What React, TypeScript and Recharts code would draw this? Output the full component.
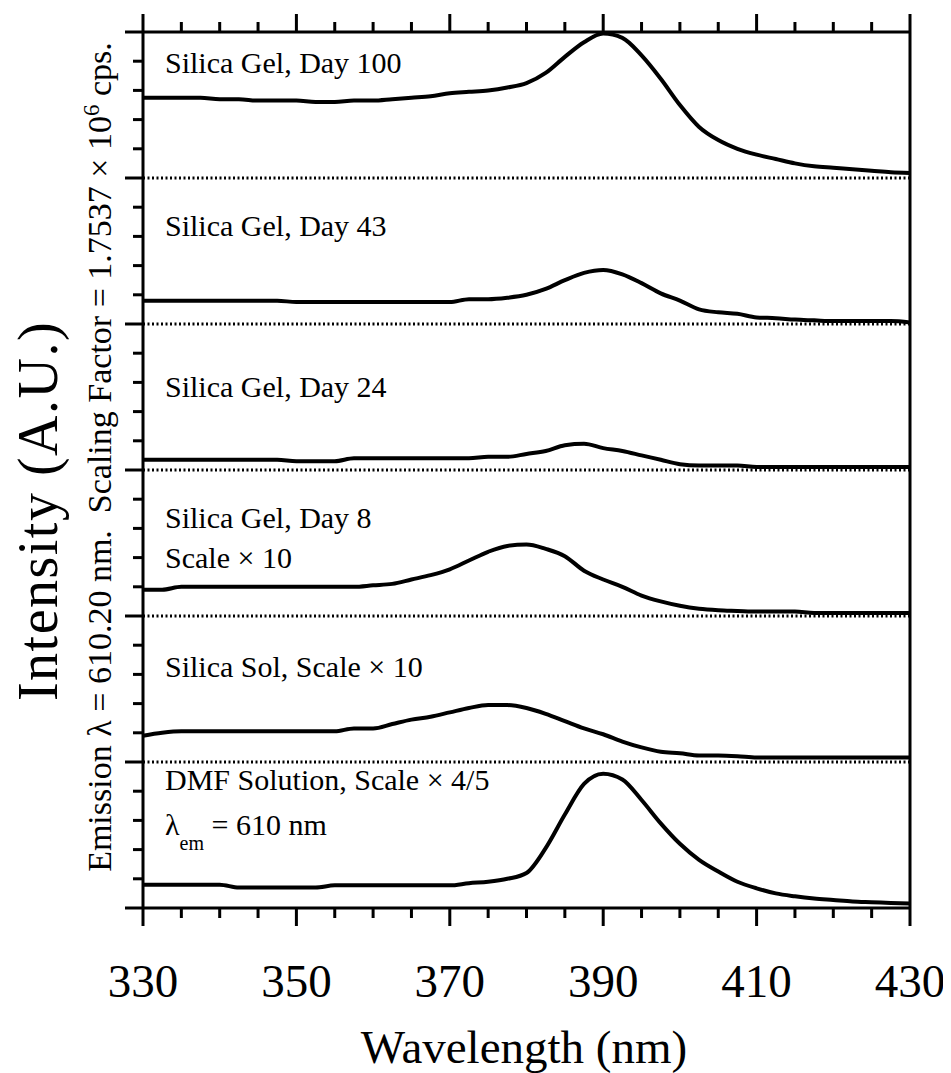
import React from 'react';
import { LineChart, Line, XAxis, YAxis, ReferenceLine } from 'recharts';

const FONT = "'Liberation Serif', 'Times New Roman', Times, serif";

// wavelength grid (nm)
const WAVELENGTHS = [
  330, 332.5, 335, 337.5, 340, 342.5, 345, 347.5, 350, 352.5, 355, 357.5, 360, 362.5,
  365, 367.5, 370, 372.5, 375, 377.5, 380, 382.5, 385, 387.5, 390, 392.5, 395, 397.5,
  400, 402.5, 405, 407.5, 410, 412.5, 415, 417.5, 420, 422.5, 425, 427.5, 430,
];

// intensities, in units of one panel height (0 = panel baseline, 1 = panel top)
const DAY_100 = [
  0.55, 0.55, 0.55, 0.55, 0.54, 0.54, 0.53, 0.53, 0.53, 0.52, 0.52, 0.53, 0.53, 0.54,
  0.55, 0.56, 0.58, 0.59, 0.6, 0.62, 0.65, 0.72, 0.83, 0.93, 0.99, 0.96, 0.84, 0.68,
  0.5, 0.35, 0.26, 0.2, 0.16, 0.13, 0.1, 0.08, 0.07, 0.06, 0.05, 0.04, 0.035,
];
const DAY_43 = [
  0.16, 0.16, 0.16, 0.16, 0.16, 0.16, 0.16, 0.16, 0.15, 0.15, 0.15, 0.15, 0.15, 0.15,
  0.15, 0.15, 0.15, 0.17, 0.17, 0.18, 0.2, 0.24, 0.3, 0.35, 0.37, 0.34, 0.28, 0.21,
  0.16, 0.1, 0.08, 0.07, 0.045, 0.04, 0.03, 0.025, 0.02, 0.02, 0.02, 0.02, 0.01,
];
const DAY_24 = [
  0.07, 0.07, 0.07, 0.07, 0.07, 0.07, 0.07, 0.07, 0.06, 0.06, 0.06, 0.08, 0.08, 0.08,
  0.08, 0.08, 0.08, 0.08, 0.09, 0.09, 0.11, 0.13, 0.17, 0.18, 0.15, 0.13, 0.1, 0.07,
  0.04, 0.03, 0.03, 0.03, 0.02, 0.02, 0.02, 0.02, 0.02, 0.02, 0.02, 0.02, 0.02,
];
const DAY_8 = [
  0.18, 0.18, 0.2, 0.2, 0.2, 0.2, 0.2, 0.2, 0.2, 0.2, 0.2, 0.2, 0.21, 0.22,
  0.25, 0.28, 0.32, 0.38, 0.44, 0.48, 0.49, 0.46, 0.41, 0.31, 0.25, 0.2, 0.14, 0.1,
  0.07, 0.05, 0.04, 0.035, 0.03, 0.03, 0.03, 0.02, 0.02, 0.02, 0.02, 0.02, 0.02,
];
const SOL = [
  0.18, 0.2, 0.21, 0.21, 0.21, 0.21, 0.21, 0.21, 0.21, 0.21, 0.21, 0.23, 0.23, 0.26,
  0.29, 0.31, 0.34, 0.37, 0.39, 0.39, 0.37, 0.33, 0.28, 0.23, 0.19, 0.14, 0.1, 0.07,
  0.06, 0.045, 0.045, 0.04, 0.03, 0.03, 0.03, 0.03, 0.03, 0.03, 0.03, 0.03, 0.03,
];
const DMF = [
  0.16, 0.16, 0.16, 0.16, 0.16, 0.14, 0.14, 0.14, 0.14, 0.14, 0.155, 0.155, 0.155, 0.155,
  0.155, 0.155, 0.155, 0.17, 0.18, 0.2, 0.24, 0.41, 0.64, 0.85, 0.92, 0.88, 0.74, 0.58,
  0.44, 0.33, 0.25, 0.18, 0.135, 0.1, 0.08, 0.065, 0.055, 0.045, 0.04, 0.035, 0.03,
];

// stacked from top panel to bottom panel
const SERIES = [
  { key: 'day100', values: DAY_100, offset: 5 },
  { key: 'day43', values: DAY_43, offset: 4 },
  { key: 'day24', values: DAY_24, offset: 3 },
  { key: 'day8', values: DAY_8, offset: 2 },
  { key: 'sol', values: SOL, offset: 1 },
  { key: 'dmf', values: DMF, offset: 0 },
];

const X_TICKS = [330, 335, 340, 345, 350, 355, 360, 365, 370, 375, 380, 385, 390, 395, 400, 405, 410, 415, 420, 425, 430];
const X_LABELS = [330, 350, 370, 390, 410, 430];
const Y_TICKS = [
  0, 0.2, 0.4, 0.6, 0.8, 1, 1.2, 1.4, 1.6, 1.8, 2, 2.2, 2.4, 2.6, 2.8, 3,
  3.2, 3.4, 3.6, 3.8, 4, 4.2, 4.4, 4.6, 4.8, 5, 5.2, 5.4, 5.6, 5.8, 6,
];
const SEPARATORS = [1, 2, 3, 4, 5];

const data = WAVELENGTHS.map((wl, i) => {
  const row: any = { wl };
  SERIES.forEach((s) => { row[s.key] = s.offset + s.values[i]; });
  return row;
});

const W = 943;
const H = 1065;
const MARGIN = { top: 4, right: 21, bottom: 145, left: 115 };
const AXIS_SIZE = 20;
const PLOT_H = H - MARGIN.top - MARGIN.bottom - 2 * AXIS_SIZE;

const isMajorY = (v: number) => Math.abs(v - Math.round(v)) < 1e-6;
const MAJOR = 18;
const MINOR = 10;
const serif = { fontFamily: FONT, whiteSpace: 'pre' as const };

// bottom tick + label, plus the matching outward tick on the top edge of the frame
const BottomTick = ({ x, y, payload }: any) => {
  const major = X_LABELS.includes(payload.value);
  const len = major ? MAJOR : MINOR;
  return (
    <g>
      <line x1={x} y1={y} x2={x} y2={y + len} stroke="#000" strokeWidth={3} />
      <line x1={x} y1={y - PLOT_H} x2={x} y2={y - PLOT_H - len} stroke="#000" strokeWidth={3} />
      {major && (
        <text x={x} y={y + 89} textAnchor="middle" fontSize={47} style={serif} fill="#000">
          {payload.value}
        </text>
      )}
    </g>
  );
};

const LeftTick = ({ x, y, payload }: any) => (
  <line x1={x} y1={y} x2={x - (isMajorY(payload.value) ? MAJOR : MINOR)} y2={y} stroke="#000" strokeWidth={3} />
);

const RightTick = ({ x, y, payload }: any) => (
  <line x1={x} y1={y} x2={x + (isMajorY(payload.value) ? MAJOR : MINOR)} y2={y} stroke="#000" strokeWidth={3} />
);

const axisLine = { stroke: '#000', strokeWidth: 3 };

export default function App() {
  return (
    <div style={{ position: 'relative', width: W, height: H, background: '#fff' }}>
      <LineChart width={W} height={H} data={data} margin={MARGIN}>
        <XAxis xAxisId="bottom" dataKey="wl" type="number" domain={[330, 430]} ticks={X_TICKS} interval={0}
          height={AXIS_SIZE} tickSize={0} tickMargin={0} axisLine={axisLine} tickLine={false} tick={BottomTick} />
        <XAxis xAxisId="top" orientation="top" dataKey="wl" type="number" domain={[330, 430]} ticks={X_TICKS} interval={0}
          height={AXIS_SIZE} tickSize={0} tickMargin={0} axisLine={axisLine} tickLine={false} tick={false} />
        <YAxis yAxisId="left" type="number" domain={[0, 6]} ticks={Y_TICKS} interval={0}
          width={AXIS_SIZE} tickSize={0} tickMargin={0} axisLine={axisLine} tickLine={false} tick={LeftTick} />
        <YAxis yAxisId="right" orientation="right" type="number" domain={[0, 6]} ticks={Y_TICKS} interval={0}
          width={AXIS_SIZE} tickSize={0} tickMargin={0} axisLine={axisLine} tickLine={false} tick={RightTick} />
        {SEPARATORS.map((v) => (
          <ReferenceLine key={v} xAxisId="bottom" yAxisId="left" y={v} stroke="#000" strokeWidth={3} strokeDasharray="2 2.5" />
        ))}
        {SERIES.map((s) => (
          <Line key={s.key} xAxisId="bottom" yAxisId="left" type="monotone" dataKey={s.key} stroke="#000"
            strokeWidth={4} dot={false} isAnimationActive={false} />
        ))}
      </LineChart>
      <svg width={W} height={H} style={{ position: 'absolute', left: 0, top: 0, pointerEvents: 'none' }} fill="#000">
        <g fontSize={30} style={serif}>
          <text x={157} y={65} style={serif}>Silica Gel, Day 100</text>
          <text x={157} y={228} style={serif}>Silica Gel, Day 43</text>
          <text x={157} y={389} style={serif}>Silica Gel, Day 24</text>
          <text x={157} y={520} style={serif}>Silica Gel, Day 8</text>
          <text x={157} y={560} style={serif}>Scale × 10</text>
          <text x={157} y={669} style={serif}>Silica Sol, Scale × 10</text>
          <text x={157} y={782} style={serif}>DMF Solution, Scale × 4/5</text>
          <text x={157} y={827} style={serif}>
            λ<tspan fontSize={20} dy={15}>em</tspan><tspan dy={-15}> = 610 nm</tspan>
          </text>
        </g>
        <text transform="translate(49, 503) rotate(-90)" textAnchor="middle" fontSize={56} letterSpacing={1.5} style={serif}>
          Intensity (A.U.)
        </text>
        <text transform="translate(103, 449) rotate(-90)" textAnchor="middle" fontSize={34} style={serif}>
          {'Emission λ = 610.20 nm.  Scaling Factor = 1.7537 × 10'}<tspan fontSize={23} dy={-12}>6</tspan><tspan dy={12}>{' cps.'}</tspan>
        </text>
        <text x={516} y={1055} textAnchor="middle" fontSize={47} style={serif}>Wavelength (nm)</text>
      </svg>
    </div>
  );
}
